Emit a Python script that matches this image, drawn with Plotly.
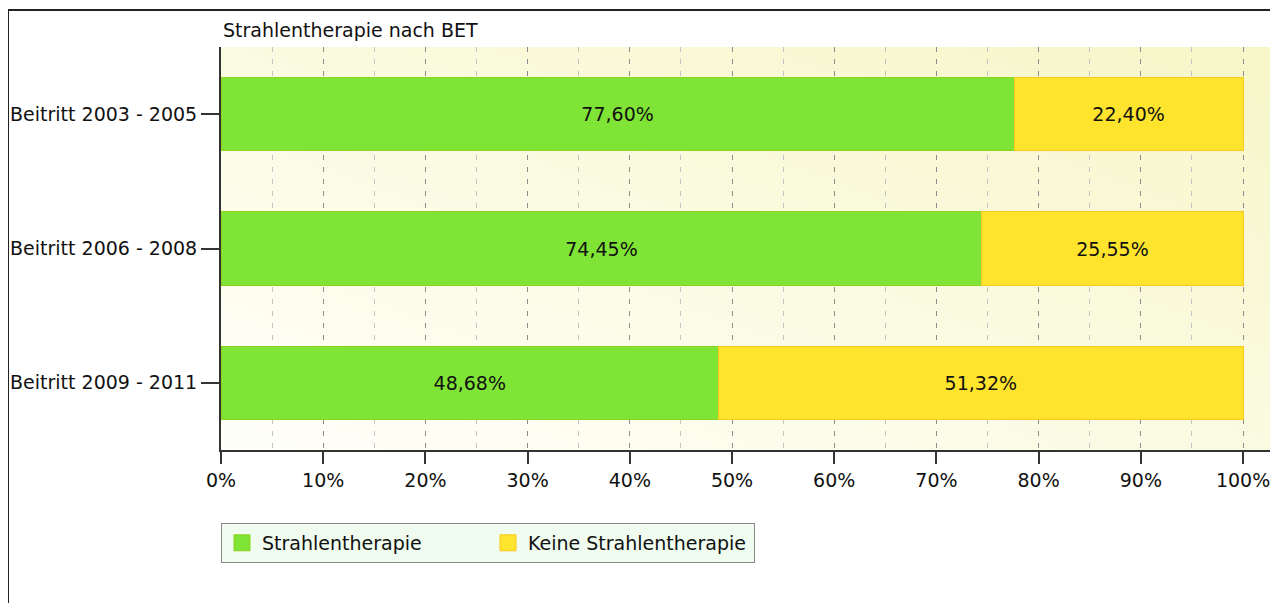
import plotly.graph_objects as go

categories = ["Beitritt 2003 - 2005", "Beitritt 2006 - 2008", "Beitritt 2009 - 2011"]
strahlentherapie = [77.60, 74.45, 48.68]
keine_strahlentherapie = [22.40, 25.55, 51.32]
series_names = ["Strahlentherapie", "Keine Strahlentherapie"]
chart_title = "Strahlentherapie nach BET"
x_ticks = list(range(0, 101, 10))
x_tick_labels = [f"{v}%" for v in x_ticks]

FONT = "DejaVu Sans"
FS = 19
GREEN, GREEN_EDGE = "#7fe436", "#8ed11e"
YELLOW, YELLOW_EDGE = "#ffe42e", "#ffc81e"

bg_svg = (
    "data:image/svg+xml;utf8,"
    "<svg xmlns='http://www.w3.org/2000/svg' width='100' height='100' preserveAspectRatio='none'>"
    "<defs><linearGradient id='g' x1='0' y1='1' x2='1' y2='0'>"
    "<stop offset='0' stop-color='%23fffffa'/>"
    "<stop offset='1' stop-color='%23f6f6c8'/>"
    "</linearGradient></defs>"
    "<rect width='100' height='100' fill='url(%23g)'/></svg>"
)

fig = go.Figure()
for vals, name, col, edge in [
    (strahlentherapie, series_names[0], GREEN, GREEN_EDGE),
    (keine_strahlentherapie, series_names[1], YELLOW, YELLOW_EDGE),
]:
    fig.add_trace(go.Bar(
        y=categories, x=vals, orientation="h", name=name, legendgroup=name,
        showlegend=False,
        marker=dict(color=col, line=dict(color=edge, width=1)),
        texttemplate="%{x:.2f}%", textposition="inside", insidetextanchor="middle",
        textfont=dict(color="#111111", size=FS, family=FONT), constraintext="none",
    ))
# legend proxies with larger square swatches
for name, col, edge in [(series_names[0], GREEN, GREEN_EDGE), (series_names[1], YELLOW, YELLOW_EDGE)]:
    fig.add_trace(go.Scatter(
        x=[None], y=[None], mode="markers", name=name, legendgroup=name,
        marker=dict(symbol="square", size=16, color=col, line=dict(color=edge, width=1)),
        hoverinfo="skip",
    ))

fig.update_layout(
    width=1270, height=595,
    barmode="stack", bargap=0.455,
    separators=",.",
    paper_bgcolor="white", plot_bgcolor="rgba(0,0,0,0)",
    margin=dict(l=213, r=0, t=39, b=153, pad=0, autoexpand=False),
    font=dict(family=FONT, size=FS, color="#111111"),
    showlegend=True,
    legend=dict(
        orientation="h", x=0, y=-0.181, xanchor="left", yanchor="top",
        bgcolor="#effcef", bordercolor="#8a8a8a", borderwidth=1,
        font=dict(family=FONT, size=FS, color="#111111"),
        entrywidth=221, traceorder="normal", itemsizing="trace",
    ),
    images=[dict(
        source=bg_svg, xref="paper", yref="paper", x=0, y=1, sizex=1, sizey=1,
        xanchor="left", yanchor="top", sizing="stretch", layer="below",
    )],
    annotations=[dict(
        text=chart_title, xref="paper", yref="paper", x=0, y=1.042,
        xanchor="left", yanchor="middle", showarrow=False,
        font=dict(family=FONT, size=FS, color="#111111"),
    )],
    shapes=[dict(
        type="path", xref="paper", yref="paper",
        path="M -0.2015 -0.5 L -0.2015 1.0918 L 1.2 1.0918",
        line=dict(color="#222222", width=2),
    )],
)

fig.update_xaxes(
    range=[0, 103.42], tickvals=x_ticks, ticktext=x_tick_labels,
    showline=True, linecolor="#333333", linewidth=2,
    ticks="outside", ticklen=12, tickwidth=2, tickcolor="#333333",
    showgrid=True, gridcolor="#8c8c8c", gridwidth=1, griddash="5px,7px",
    minor=dict(dtick=5, tick0=0, showgrid=True, gridcolor="#c4c4c4",
               griddash="5px,7px", gridwidth=1, ticks=""),
    zeroline=False, tickfont=dict(family=FONT, size=FS, color="#111111"),
    fixedrange=True, automargin=False,
)
fig.update_yaxes(
    autorange="reversed", showline=True, linecolor="#333333", linewidth=2,
    ticks="outside", ticklen=18, tickwidth=2, tickcolor="#333333",
    showgrid=False, zeroline=False,
    tickfont=dict(family=FONT, size=FS, color="#111111"),
    fixedrange=True, automargin=False,
)

fig.write_html("out.html")
